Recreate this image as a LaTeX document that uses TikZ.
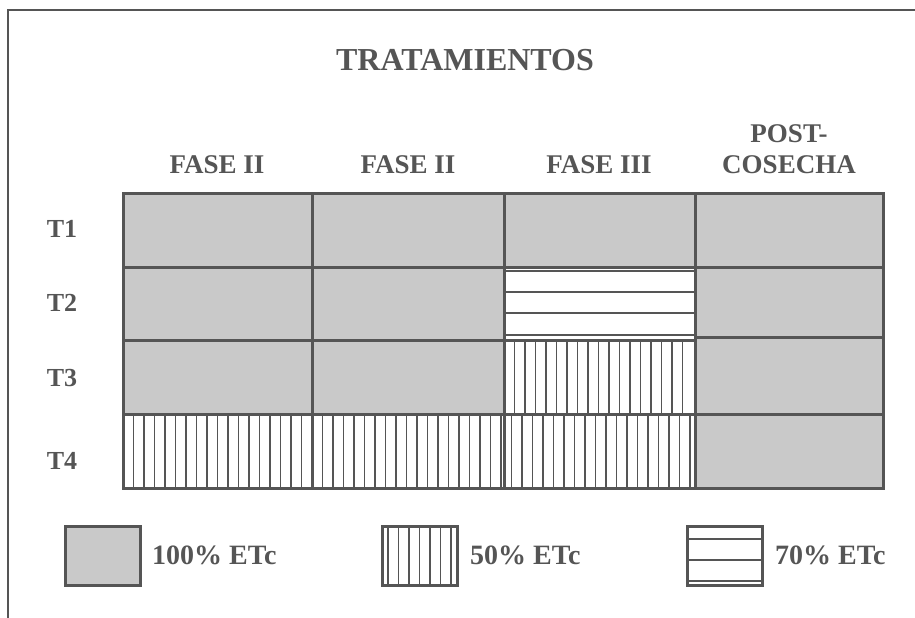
\documentclass[tikz,border=0pt]{standalone}
\usepackage{fontspec}
\setmainfont{Liberation Serif}
\usetikzlibrary{calc, positioning}
\definecolor{cellgray}{RGB}{201, 201, 201}
\definecolor{linegray}{RGB}{85, 85, 85}
\definecolor{textgray}{RGB}{85, 85, 85}

\tikzset{
  gridline/.style={draw=linegray, line width=3pt},
  hatchline/.style={draw=linegray, line width=1.4pt},
  framebox/.style={draw=linegray, line width=2pt},
  headtext/.style={font=\bfseries\fontsize{27}{31}\selectfont, text=textgray, align=center, inner sep=0pt},
  rowtext/.style={font=\bfseries\fontsize{26}{28}\selectfont, text=textgray, inner sep=0pt},
  keytext/.style={font=\bfseries\fontsize{28}{30}\selectfont, text=textgray, inner sep=0pt, anchor=west},
}

\begin{document}
\begin{tikzpicture}[x=1pt, y=-1pt, line cap=rect, line join=miter]

		\useasboundingbox (0,0) rectangle (915,618);

		% outer frame
		\draw [framebox] (8,618)--(8,10)--(915,10);

		% table corners
		\coordinate (NW) at (123,193);
		\coordinate (SE) at (883,488);

		% cells
		\fill [cellgray] (NW) rectangle (SE);
		\fill [white] (504,267) rectangle (695,414);
		\fill [white] (123,414) rectangle (695,488);

		% 50% ETc stripes
		\foreach \x in {133.5,144,...,690} \draw [hatchline] (\x,414)--(\x,488);
		\foreach \x in {514.5,525,...,690} \draw [hatchline] (\x,340)--(\x,414);

		% 70% ETc stripes
		\foreach \y in {271,292,313,335} \draw [hatchline] (504,\y)--(695,\y);

		% grid
		\draw [gridline] (NW) rectangle (SE);
		\foreach \x in {312,504,695} \draw [gridline] (\x,193)--(\x,488);
		\foreach \y in {267,414} \draw [gridline] (123,\y)--(883,\y);
		\draw [gridline] (123,340)--(695,340);
		\draw [gridline] (695,337)--(883,337);

		% title and column heads
		\node [headtext, font=\bfseries\fontsize{32}{34}\selectfont] (title) at (465,60) {TRATAMIENTOS};
		\node [headtext] (fase1) at (217,165) {FASE II};
		\node [headtext] (fase2) at (408,165) {FASE II};
		\node [headtext] (fase3) at (599,165) {FASE III};
		\node [headtext] (post) at (789,149) {POST-\\COSECHA};

		% row heads
		\node [rowtext] (t1) at (62,229) {T1};
		\node [rowtext] (t2) at (62,303) {T2};
		\node [rowtext] (t3) at (62,378) {T3};
		\node [rowtext] (t4) at (62,461) {T4};

		% legend
		\fill [cellgray] (65,526) rectangle (140,585);
		\draw [gridline] (65,526) rectangle (140,585);
		\node [keytext] (full) at (152,555) {100\% ETc};

		\foreach \x in {388,398.5,...,452} \draw [hatchline] (\x,526)--(\x,585);
		\draw [gridline] (382,526) rectangle (457,585);
		\node [keytext] (half) at (470,555) {50\% ETc};

		\foreach \y in {539,560,581} \draw [hatchline] (687,\y)--(762,\y);
		\draw [gridline] (687,526) rectangle (762,585);
		\node [keytext] (seventy) at (775,555) {70\% ETc};
    \end{tikzpicture}
\end{document}
